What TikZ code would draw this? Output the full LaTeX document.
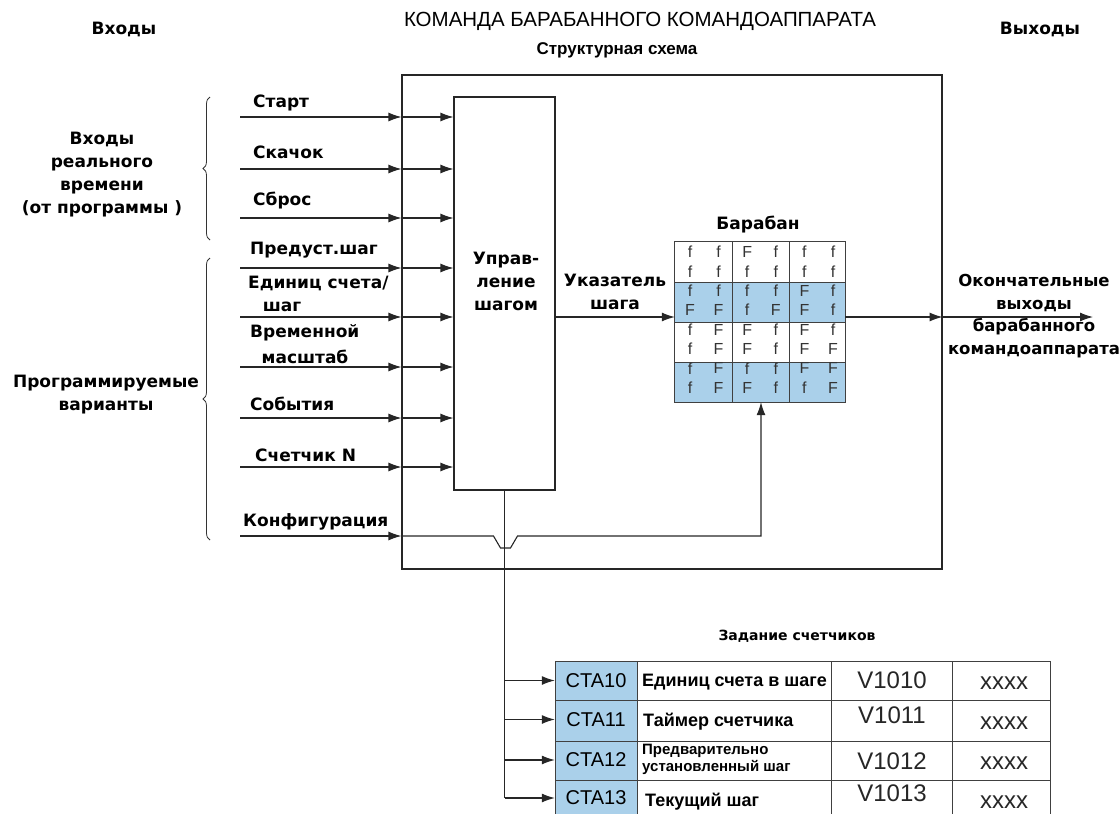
\documentclass[tikz,border=0pt]{standalone}
\usepackage{fontspec}
\setmainfont{DejaVu Sans}
\newfontfamily\arialfont{Liberation Sans}
\usepackage{xcolor}
\usetikzlibrary{arrows.meta,positioning,calc,decorations.pathreplacing}
\definecolor{drumblue}{RGB}{170,208,234}

\begin{document}
\begin{tikzpicture}[x=1pt,y=-1pt,
    lbl/.style={font=\bfseries\fontsize{17}{23}\selectfont, inner sep=0pt, align=center},
    ttl/.style={font=\arialfont\fontsize{20.5}{24}\selectfont, inner sep=0pt},
    sub/.style={font=\arialfont\bfseries\fontsize{17}{20}\selectfont, inner sep=0pt},
    tbl/.style={font=\arialfont\bfseries\fontsize{18}{20}\selectfont, inner sep=0pt},
    tbls/.style={font=\arialfont\bfseries\fontsize{15}{17}\selectfont, inner sep=0pt, align=left},
    val/.style={font=\arialfont\fontsize{24}{26}\selectfont, inner sep=0pt, text=black!85},
    cta/.style={font=\arialfont\fontsize{20}{22}\selectfont, inner sep=0pt, minimum width=82, minimum height=38},
    drumtxt/.style={font=\arialfont\fontsize{16}{16}\selectfont, inner sep=0pt, text=black!80},
    wire/.style={draw=black!85, line width=1.1pt},
    grid/.style={draw=black!75, line width=1pt},
    tip/.style={-{Latex[length=13pt,width=9pt]}},
    curly/.style={draw=black!80, line width=0.8pt, decorate, decoration={brace, amplitude=7pt}}]
    \useasboundingbox (0,0) rectangle (1120,814);

    % headings
    \node[lbl] (hin) at (124,29) {Входы};
    \node[ttl] (htitle) at (640,21) {КОМАНДА БАРАБАННОГО КОМАНДОАППАРАТА};
    \node[lbl] (hout) at (1040,29) {Выходы};
    \node[sub] (hsub) at (617,50) {Структурная схема};

    % main blocks
    \node (outer) [wire, minimum width=540, minimum height=494, inner sep=0pt] at (672,322) {};
    \node (ctrl) [wire, minimum width=101, minimum height=393, inner sep=0pt] at (504.5,293.5) {};
    \node[lbl] (ctrltxt) at (506,281) {Управ-\\ление\\шагом};

    % drum
    \node (drum) [minimum width=170, minimum height=160, inner sep=0pt] at (760,322) {};
    \fill[drumblue] (675,282) rectangle (845,322) (675,362) rectangle (845,402);
    \foreach \y in {282,322,362} \draw[grid] (675,\y) -- (845,\y);
    \foreach \x in {732,789} \draw[grid] (\x,242) -- (\x,402);
    \draw[grid] (drum.north west) rectangle (drum.south east);
    \foreach \row [count=\i from 0] in {{f,f,F,f,f,f},{f,f,f,f,f,f},{f,f,f,f,F,f},{F,F,f,F,F,f},
                                        {f,F,F,f,F,f},{f,F,F,f,F,F},{f,F,f,f,F,F},{f,F,F,f,f,F}}
        \foreach \ch [count=\j from 0] in \row
            \node[drumtxt] at ({690+28.6*\j},{252+19.4*\i}) {\ch};
    \node[lbl] (ldrum) at (758,225) {Барабан};

    % inputs
    \draw[curly] (210,240) -- (210,97);
    \draw[curly] (210,540) -- (210,258);
    \node[lbl] (grtime) at (102,175) {Входы\\реального\\времени\\(от программы )};
    \node[lbl] (grprog) at (106,395) {Программируемые\\варианты};

    \node[lbl, anchor=west] (lstart) at (253,103) {Старт};
    \node[lbl, anchor=west] (ljump) at (253,152) {Скачок};
    \node[lbl, anchor=west] (lreset) at (253,201) {Сброс};
    \node[lbl, anchor=west] (lpreset) at (250,250) {Предуст.шаг};
    \node[lbl, anchor=west] (lunits) at (248,283) {Единиц счета/};
    \node[lbl] (lunits2) at (282,307) {шаг};
    \node[lbl, anchor=west] (lscale) at (250,333) {Временной};
    \node[lbl] (lscale2) at (305,357) {масштаб};
    \node[lbl, anchor=west] (levents) at (250,404) {События};
    \node[lbl, anchor=west] (lcount) at (255,455) {Счетчик N};
    \node[lbl, anchor=west] (lconf) at (243,522) {Конфигурация};

    \foreach \y [count=\i] in {117,169,218,268,317,367,418,467} {
        \coordinate (in\i) at (240,\y);
        \draw[wire, tip] (in\i) -- (in\i -| outer.west);
        \draw[wire, tip] (in\i -| outer.west) -- (in\i -| ctrl.west);
    }

    % configuration line with jump over the step line
    \coordinate (cfg) at (240,536);
    \coordinate (cfgup) at (761,536);
    \draw[wire, tip] (cfg) -- (cfg -| outer.west);
    \draw[wire, tip] (cfg -| outer.west) -- ($(cfg -| ctrl.south)+(-11,0)$) -- ++(7,12) -- ++(10,0)
        -- ++(7,-12) -- (cfgup) -- (cfgup |- drum.south);

    % step pointer and outputs
    \coordinate (ptr) at (555,317);
    \coordinate (outend) at (1093,317);
    \node[lbl] (lptr) at (615,292) {Указатель\\шага};
    \draw[wire, tip] (ptr) -- (ptr -| drum.west);
    \draw[wire, tip] (ptr -| drum.east) -- (ptr -| outer.east);
    \draw[wire, tip] (ptr -| outer.east) -- (outend);
    \node[lbl, font=\bfseries\fontsize{16.5}{22.7}\selectfont] (lout) at (1034,316) {Окончательные\\выходы\\барабанного\\командоаппарата};

    % counter table
    \node[lbl, font=\bfseries\fontsize{14}{18}\selectfont] (ltab) at (797,636) {Задание счетчиков};
    \fill[drumblue] (555,661) rectangle (637,814);
    \foreach \y in {661,700,741,780} \draw[grid] (555,\y) -- (1050,\y);
    \foreach \x in {555,637,831,952,1050} \draw[grid] (\x,661) -- (\x,814);

    \node[cta] (cta10) at (596,680.5) {CTA10};
    \node[cta] (cta11) at (596,719.5) {CTA11};
    \node[cta] (cta12) at (596,760) {CTA12};
    \node[cta] (cta13) at (596,798) {CTA13};

    \node[tbl, anchor=west] (t10) at (642,682) {Единиц счета в шаге};
    \node[tbl, anchor=west] (t11) at (643,722) {Таймер счетчика};
    \node[tbls, anchor=west] (t12) at (642,759) {Предварительно\\установленный шаг};
    \node[tbl, anchor=west] (t13) at (645,802) {Текущий шаг};

    \node[val] (v10) at (892,680) {V1010};
    \node[val] (v11) at (892,715) {V1011};
    \node[val] (v12) at (892,761) {V1012};
    \node[val] (v13) at (892,793) {V1013};
    \foreach \y [count=\i] in {683,723,763,802}
        \node[val] (x\i) at (1004,\y) {xxxx};

    \draw[wire] (ctrl.south) -- (ctrl.south |- cta13.west);
    \foreach \n in {10,11,12,13}
        \draw[wire, tip] (ctrl.south |- cta\n.west) -- (cta\n.west);
\end{tikzpicture}
\end{document}
